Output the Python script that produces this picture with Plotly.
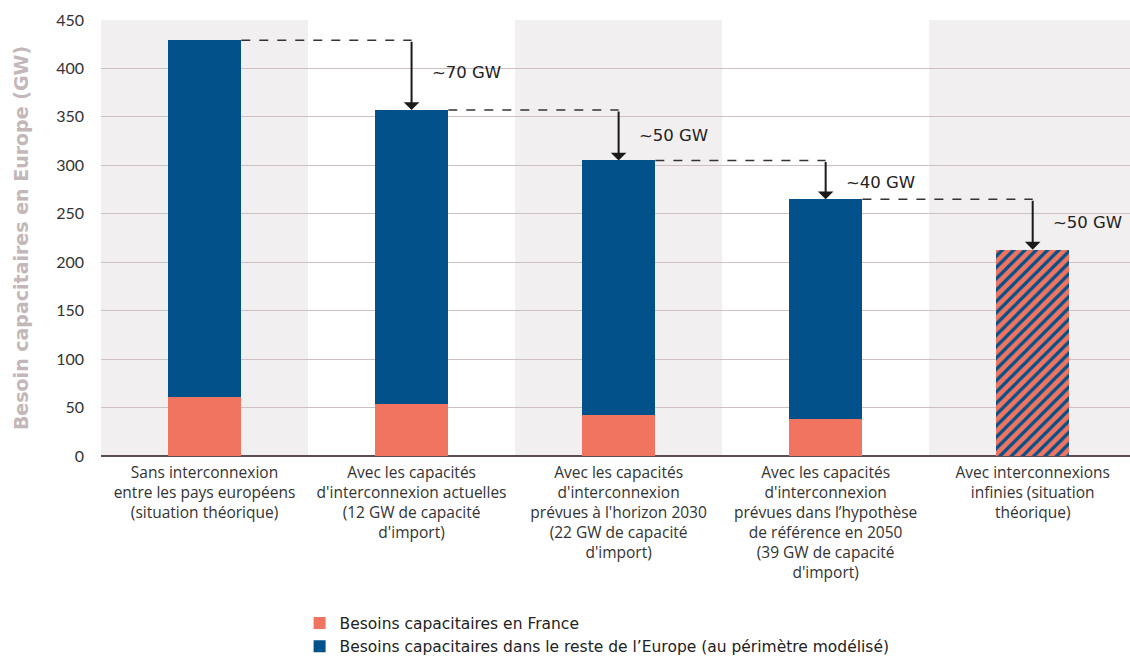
import plotly.graph_objects as go

# Scénarios d'interconnexion
categories = [
    "Sans interconnexion<br>entre les pays européens<br>(situation théorique)",
    "Avec les capacités<br>d'interconnexion actuelles<br>(12 GW de capacité<br>d'import)",
    "Avec les capacités<br>d'interconnexion<br>prévues à l'horizon 2030<br>(22 GW de capacité<br>d'import)",
    "Avec les capacités<br>d'interconnexion<br>prévues dans l’hypothèse<br>de référence en 2050<br>(39 GW de capacité<br>d'import)",
    "Avec interconnexions<br>infinies (situation<br>théorique)",
]
france = [61, 54, 42, 38]            # GW, scénarios 1 à 4
reste_europe = [368, 303, 263, 227]  # GW, scénarios 1 à 4
total_infini = 213                   # GW, interconnexions infinies
gain_labels = ["~70 GW", "~50 GW", "~40 GW", "~50 GW"]
y_ticks = [0, 50, 100, 150, 200, 250, 300, 350, 400, 450]

ORANGE = "#f0745f"
BLUE = "#02518a"
BAR_W = 0.355

xs = list(range(len(categories)))
totals = [f + e for f, e in zip(france, reste_europe)] + [total_infini]

fig = go.Figure()
fig.add_bar(x=xs[:4], y=france, name="Besoins capacitaires en France",
            marker=dict(color=ORANGE, line=dict(width=0)), width=BAR_W)
fig.add_bar(x=xs[:4], y=reste_europe,
            name="Besoins capacitaires dans le reste de l’Europe (au périmètre modélisé)",
            marker=dict(color=BLUE, line=dict(width=0)), width=BAR_W)
fig.add_bar(x=[xs[4]], y=[total_infini], showlegend=False, width=BAR_W,
            marker=dict(color=ORANGE, line=dict(width=0),
                        pattern=dict(shape="/", fgcolor=BLUE, bgcolor=ORANGE,
                                     size=8, solidity=0.4, fillmode="replace")))

shapes = []
# bandes de fond alternées
for i in xs:
    shapes.append(dict(type="rect", xref="x", yref="paper", x0=i - 0.5, x1=i + 0.5,
                       y0=0, y1=1, layer="below", line=dict(width=0),
                       fillcolor="#f2eff0" if i % 2 == 0 else "#ffffff"))

# position verticale des libellés de réduction
label_y = [396, 331, 282, 241.5]

annotations = []
for i in range(4):
    top, nxt = totals[i], totals[i + 1]
    # trait pointillé du sommet de la barre vers la suivante
    shapes.append(dict(type="line", xref="x", yref="y", x0=i + BAR_W / 2, x1=i + 1,
                       y0=top, y1=top, line=dict(color="#333333", width=1.5, dash="dash")))
    # flèche de réduction
    annotations.append(dict(x=i + 1, y=nxt, ax=i + 1, ay=top, xref="x", yref="y",
                            axref="x", ayref="y", showarrow=True, arrowhead=1,
                            arrowsize=1.3, arrowwidth=2, arrowcolor="#1a1a1a", text=""))
    annotations.append(dict(x=i + 1.087, y=label_y[i], xref="x", yref="y",
                            text=gain_labels[i], showarrow=False,
                            xanchor="left", yanchor="middle",
                            font=dict(family="DejaVu Sans", size=16.5, color="#222222")))

fig.update_layout(
    width=1130, height=665,
    margin=dict(l=101, r=0, t=20, b=209),
    paper_bgcolor="white", plot_bgcolor="rgba(0,0,0,0)",
    barmode="stack", bargap=0,
    shapes=shapes, annotations=annotations,
    font=dict(family="Lato", size=15, color="#333333"),
    legend=dict(orientation="v", x=0.193, y=-0.345, xanchor="left", yanchor="top",
                font=dict(family="DejaVu Sans", size=15.5, color="#222222"),
                bgcolor="rgba(0,0,0,0)", tracegroupgap=0, itemwidth=30,
                traceorder="normal"),
    showlegend=True,
)
fig.update_xaxes(range=[-0.5, 4.47], tickvals=xs, ticktext=categories, automargin=False,
                 showgrid=False, zeroline=False, showline=False, ticks="",
                 ticklabelstandoff=5,
                 tickfont=dict(family="Open Sans", size=15.5, color="#333333"), fixedrange=True)
fig.update_yaxes(range=[0, 450], tickvals=y_ticks, showgrid=True, gridcolor="#cdbfc2",
                 gridwidth=1, zeroline=True, zerolinecolor="#5a4c50", zerolinewidth=2,
                 showline=False, ticks="", ticklabelstandoff=16, automargin=False,
                 tickfont=dict(family="Lato", size=16, color="#333333"),
                 title=dict(text="<b>Besoin capacitaires en Europe (GW)</b>", standoff=22,
                            font=dict(family="DejaVu Sans", size=19, color="#c3b7b9")))

fig.write_html("out.html")
